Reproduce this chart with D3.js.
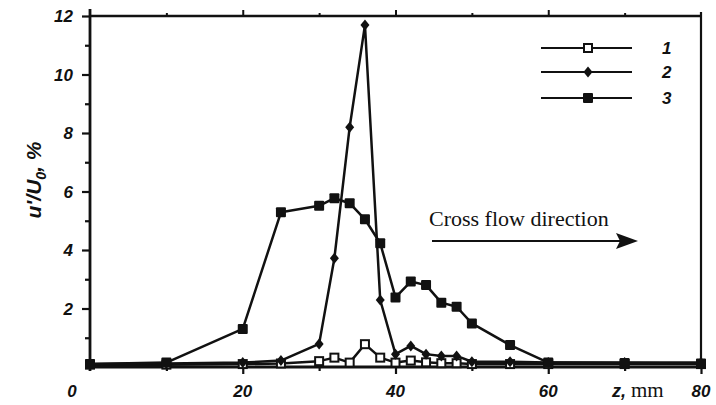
<!DOCTYPE html>
<html>
<head>
<meta charset="utf-8">
<script src="https://cdn.jsdelivr.net/npm/d3@7"></script>
<style>
  html, body { margin: 0; padding: 0; background: #fff; }
  svg { display: block; }
  .tick-label { font-family: "Liberation Sans", Arial, sans-serif; font-style: italic; font-weight: bold; font-size: 17px; fill: #111; }
  .serif { font-family: "Liberation Serif", "Times New Roman", serif; fill: #111; }
</style>
</head>
<body>
<svg id="chart" width="716" height="405"></svg>
<script>
// Transverse position z, mm
const zPositions = [0, 10, 20, 25, 30, 32, 34, 36, 38, 40, 42, 44, 46, 48, 50, 55, 60, 70, 80];
// Turbulence intensity u'/U0, % for the three regimes
const series1 = [0.08, 0.08, 0.1, 0.12, 0.2, 0.32, 0.15, 0.78, 0.32, 0.15, 0.22, 0.16, 0.13, 0.13, 0.1, 0.1, 0.1, 0.1, 0.1];
const series2 = [0.1, 0.12, 0.15, 0.22, 0.79, 3.72, 8.2, 11.69, 2.29, 0.44, 0.72, 0.44, 0.38, 0.38, 0.18, 0.18, 0.15, 0.15, 0.15];
const series3 = [0.1, 0.15, 1.3, 5.29, 5.51, 5.77, 5.6, 5.05, 4.23, 2.38, 2.92, 2.8, 2.2, 2.06, 1.49, 0.75, 0.15, 0.14, 0.12];
const seriesNames = ["1", "2", "3"];
const xTickLabels = ["20", "40", "60"];
const yTickValues = [2, 4, 6, 8, 10, 12];

const svg = d3.select("#chart");
const x = d3.scaleLinear().domain([0, 80]).range([90, 701]);
const y = d3.scaleLinear().domain([0, 12]).range([367, 16]);

const ink = "#111";

// Frame
const frame = svg.append("g").attr("stroke", ink).attr("fill", "none");
frame.append("line").attr("x1", x(0)).attr("x2", x(0)).attr("y1", y(12) - 7).attr("y2", y(0) + 4).attr("stroke-width", 2.8);
frame.append("line").attr("x1", x(0)).attr("x2", x(80)).attr("y1", y(0)).attr("y2", y(0)).attr("stroke-width", 2.8);
frame.append("line").attr("x1", x(0)).attr("x2", x(80)).attr("y1", y(12)).attr("y2", y(12)).attr("stroke-width", 2.4);
frame.append("line").attr("x1", x(80)).attr("x2", x(80)).attr("y1", y(12) - 4).attr("y2", y(0)).attr("stroke-width", 2.2);

// Left axis: labelled even ticks, short odd ticks
const yAxis = d3.axisLeft(y).tickValues(d3.range(1, 13)).tickSize(0).tickFormat("");
const yg = svg.append("g").attr("transform", `translate(${x(0)},0)`).call(yAxis);
yg.select(".domain").remove();
yg.selectAll(".tick line")
  .attr("x2", d => d % 2 === 0 ? -8 : -5)
  .attr("stroke", ink).attr("stroke-width", 2.2);
svg.append("g").selectAll("text").data(yTickValues).join("text")
  .attr("class", "tick-label")
  .attr("x", x(0) - 17).attr("y", d => y(d) + 6)
  .attr("text-anchor", "end")
  .text(d => d);

// Bottom axis ticks
const xAxis = d3.axisBottom(x).tickValues(d3.range(10, 81, 10)).tickSize(0).tickFormat("");
const xg = svg.append("g").attr("transform", `translate(0,${y(0)})`).call(xAxis);
xg.select(".domain").remove();
xg.selectAll(".tick line")
  .attr("y2", d => d % 20 === 0 ? 7 : 4)
  .attr("stroke", ink).attr("stroke-width", 2.2);

// Top axis ticks
const topAxis = d3.axisTop(x).tickValues(d3.range(10, 80, 10)).tickSize(0).tickFormat("");
const tg = svg.append("g").attr("transform", `translate(0,${y(12)})`).call(topAxis);
tg.select(".domain").remove();
tg.selectAll(".tick line")
  .attr("y2", d => d % 20 === 0 ? -6 : -3)
  .attr("stroke", ink).attr("stroke-width", 2);

// Bottom labels
svg.selectAll(".xlab").data(xTickLabels).join("text")
  .attr("class", "tick-label xlab")
  .attr("x", d => x(+d)).attr("y", 397)
  .attr("text-anchor", "middle")
  .text(d => d);
svg.append("text").attr("class", "tick-label").attr("x", x(0) - 18).attr("y", 397).attr("text-anchor", "middle").text("0");
svg.append("text").attr("class", "tick-label").attr("x", x(80)).attr("y", 397).attr("text-anchor", "middle").text("80");
const zl = svg.append("text").attr("x", 612).attr("y", 397);
zl.append("tspan").attr("class", "tick-label").style("font-size", "18px").text("z,");
zl.append("tspan").attr("class", "serif").attr("font-size", 21).attr("dx", 5).text("mm");

// Y axis title
const yt = svg.append("text")
  .attr("transform", "translate(41,180) rotate(-90)")
  .attr("text-anchor", "middle")
  .attr("class", "tick-label")
  .style("font-size", "21px");
yt.append("tspan").text("u'/U");
yt.append("tspan").attr("dy", 5).style("font-size", "14px").text("0");
yt.append("tspan").attr("dy", -5).text(", %");

// Series lines
const line = d3.line().x((d, i) => x(zPositions[i])).y(d => y(d));
const allSeries = [series1, series2, series3];
svg.append("g").selectAll("path").data(allSeries).join("path")
  .attr("d", d => line(d))
  .attr("fill", "none").attr("stroke", ink).attr("stroke-width", 2.5)
  .attr("stroke-linejoin", "round");

// Marker painters
function openSquare(g, cx, cy) {
  g.append("rect").attr("x", cx - 4).attr("y", cy - 4).attr("width", 8).attr("height", 8)
    .attr("fill", "#fff").attr("stroke", ink).attr("stroke-width", 2);
}
function diamond(g, cx, cy) {
  g.append("path").attr("d", `M${cx},${cy - 5.5}L${cx + 4.5},${cy}L${cx},${cy + 5.5}L${cx - 4.5},${cy}Z`).attr("fill", ink);
}
function filledSquare(g, cx, cy) {
  g.append("rect").attr("x", cx - 5).attr("y", cy - 5).attr("width", 10).attr("height", 10).attr("rx", 1).attr("fill", ink);
}
const painters = [openSquare, diamond, filledSquare];

const markers = svg.append("g");
allSeries.forEach((s, k) => {
  s.forEach((v, i) => painters[k](markers, x(zPositions[i]), y(v)));
});

// Legend
const legendY = [48, 72, 98];
const lg = svg.append("g");
seriesNames.forEach((name, k) => {
  lg.append("line").attr("x1", 541).attr("x2", 632).attr("y1", legendY[k]).attr("y2", legendY[k])
    .attr("stroke", ink).attr("stroke-width", 2.2);
  painters[k](lg, 588, legendY[k]);
  lg.append("text").attr("class", "tick-label").attr("x", 662).attr("y", legendY[k] + 6).text(name);
});

// Flow direction annotation
svg.append("text").attr("class", "serif").attr("x", 429).attr("y", 226).attr("font-size", 22).text("Cross flow direction");
svg.append("line").attr("x1", 432).attr("x2", 622).attr("y1", 241).attr("y2", 241).attr("stroke", ink).attr("stroke-width", 2.2);
svg.append("path").attr("d", "M638,241L616,233L620,241L616,249Z").attr("fill", ink);
</script>
</body>
</html>
